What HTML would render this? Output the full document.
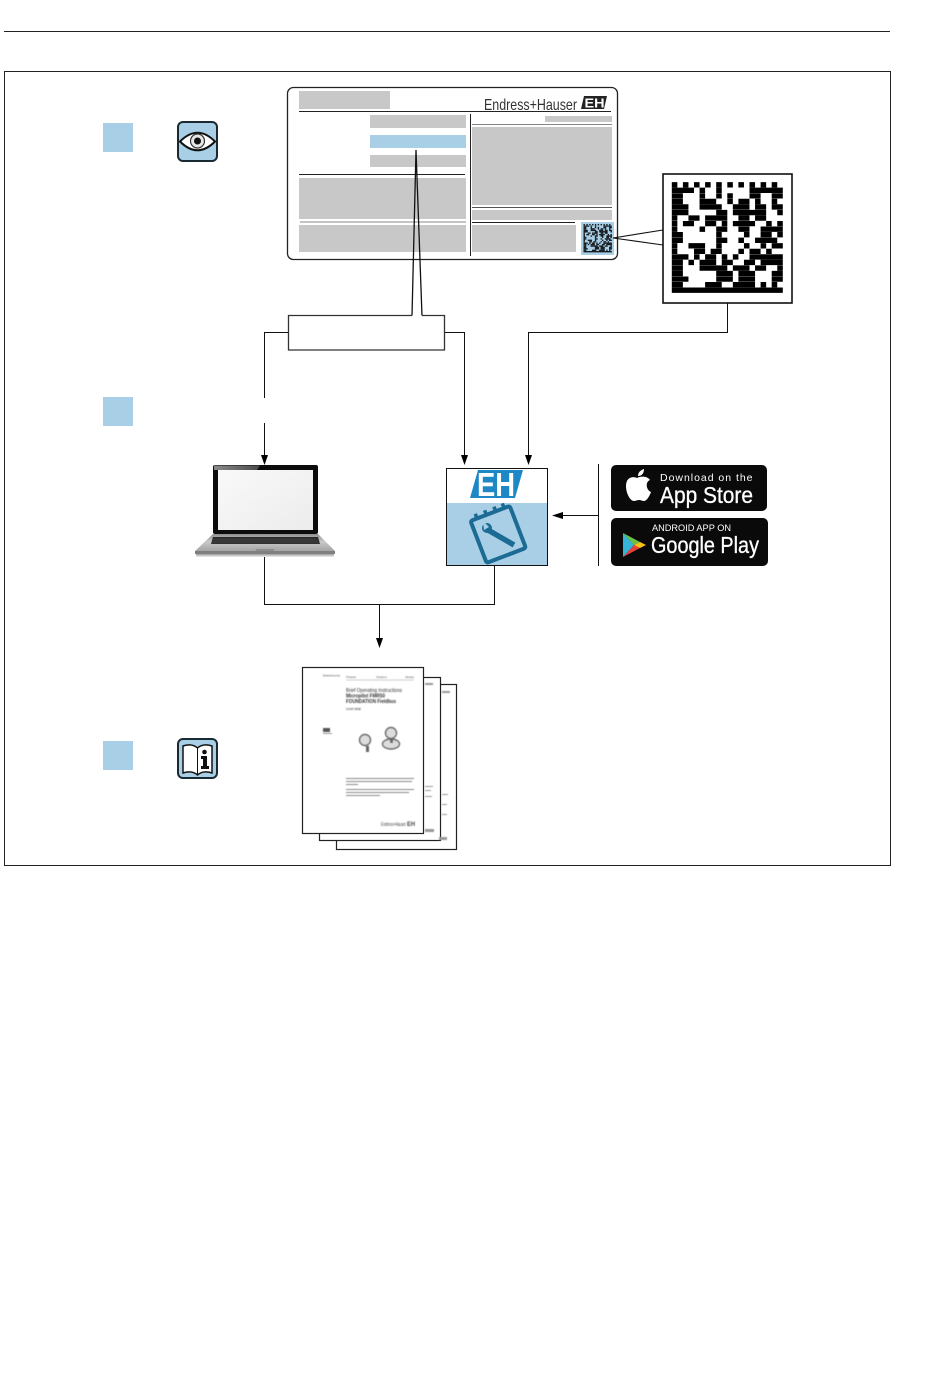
<!DOCTYPE html>
<html>
<head>
<meta charset="utf-8">
<style>
html,body{margin:0;padding:0;background:#fff;width:950px;height:1383px;overflow:hidden}
svg{display:block}
text{font-family:"Liberation Sans",sans-serif}
</style>
</head>
<body>
<svg width="950" height="1383" viewBox="0 0 950 1383" xmlns="http://www.w3.org/2000/svg">
<defs>
<path id="qr" fill="none" stroke="#000" stroke-width=".96" d="M0 .5h1M2 .5h1M4 .5h1M6 .5h1M8 .5h1M10 .5h1M12 .5h1M14 .5h1M16 .5h1M18 .5h1
M0 1.5h4M5 1.5h1M8 1.5h1M14 1.5h6
M0 2.5h2M5 2.5h1M8 2.5h1M10 2.5h1M14 2.5h2M18 2.5h2
M0 3.5h2M5 3.5h3M10 3.5h1M12 3.5h2M15 3.5h1M18 3.5h1
M0 4.5h3M5 4.5h4M11 4.5h3M15 4.5h2M18 4.5h2
M0 5.5h3M8 5.5h2M11 5.5h6M19 5.5h1
M0 6.5h1M3 6.5h2M6 6.5h4M12 6.5h2M15 6.5h2
M0 7.5h1M2 7.5h2M6 7.5h2M9 7.5h1M11 7.5h4M17 7.5h1M19 7.5h1
M0 8.5h1M5 8.5h1M8 8.5h2M12 8.5h2M16 8.5h4
M0 9.5h2M8 9.5h1M13 9.5h1M16 9.5h2M19 9.5h1
M0 10.5h2M8 10.5h2M12 10.5h1M15 10.5h4
M0 11.5h1M3 11.5h3M8 11.5h1M13 11.5h1M16 11.5h1M18 11.5h2
M0 12.5h1M4 12.5h2M7 12.5h2M12 12.5h1M14 12.5h2M17 12.5h1
M0 13.5h3M4 13.5h1M6 13.5h2M9 13.5h1M11 13.5h1M14 13.5h6
M0 14.5h2M3 14.5h1M5 14.5h3M9 14.5h2M13 14.5h2M16 14.5h4
M0 15.5h2M5 15.5h5M11 15.5h3M15 15.5h2M19 15.5h1
M0 16.5h2M8 16.5h3M12 16.5h3M18 16.5h2
M0 17.5h3M8 17.5h3M12 17.5h3M18 17.5h2
M0 18.5h2M6 18.5h3M11 18.5h4M16 18.5h1M18 18.5h1
M0 19.5h20"/>
<linearGradient id="base" x1="0" y1="0" x2="0" y2="1">
<stop offset="0" stop-color="#8f8f8f"/><stop offset=".45" stop-color="#c9c9c9"/><stop offset="1" stop-color="#a5a5a5"/>
</linearGradient>
<linearGradient id="shade" x1="0" y1="0" x2="0" y2="1">
<stop offset="0" stop-color="#9a9a9a"/><stop offset="1" stop-color="#f2f2f2"/>
</linearGradient>
<linearGradient id="screen" x1="0" y1="0" x2="1" y2="1">
<stop offset="0" stop-color="#f9f9f9"/><stop offset="1" stop-color="#ececec"/>
</linearGradient>
<linearGradient id="topband" x1="0" y1="0" x2="1" y2="0">
<stop offset="0" stop-color="#8a8a8a"/><stop offset="1" stop-color="#4a4a4a"/>
</linearGradient>
<filter id="soft" x="-5%" y="-5%" width="110%" height="110%"><feGaussianBlur stdDeviation=".45"/></filter>
</defs>

<rect width="950" height="1383" fill="#fff"/>
<line x1="4" y1="31.500" x2="890" y2="31.500" stroke="#222" stroke-width="1"/>
<rect x="4.500" y="71.500" width="886" height="794" fill="#fff" stroke="#222" stroke-width="1"/>

<!-- Blue squares -->
<rect x="103" y="123" width="30" height="29" fill="#a8cfe6"/>
<rect x="103" y="397" width="30" height="29" fill="#a8cfe6"/>
<rect x="103" y="741" width="30" height="29" fill="#a8cfe6"/>

<!-- Eye icon -->
<rect x="178" y="122" width="39" height="39" rx="5" fill="#a8cfe6" stroke="#1a2a33" stroke-width="2"/>
<path d="M180 141.500Q197.500 124 215 141.500Q197.500 159 180 141.500Z" fill="#fff" stroke="#111" stroke-width="2"/>
<circle cx="197.500" cy="141" r="7" fill="#e6e6e6" stroke="#333" stroke-width="1.200"/>
<circle cx="197.500" cy="141" r="3.500" fill="#111"/>

<!-- Book icon -->
<rect x="178" y="739" width="39" height="39" rx="5" fill="#a8cfe6" stroke="#1a2a33" stroke-width="2"/>
<path d="M183 746Q192 743 197.500 748Q203 743 212 746V773Q203 770 197.500 775Q192 770 183 773Z" fill="#fff" stroke="#111" stroke-width="1.500"/>
<line x1="197.500" y1="748" x2="197.500" y2="775" stroke="#111" stroke-width="1"/>
<circle cx="204.500" cy="752" r="2.300" fill="#111"/>
<path d="M201 756h6v10h2v3h-8v-3h2v-7h-2z" fill="#111"/>

<!-- Nameplate -->
<rect x="287.500" y="87.500" width="330" height="172" rx="6" fill="#fff" stroke="#222" stroke-width="1.300"/>
<g fill="#c8c8c8">
<rect x="299" y="91" width="91" height="18"/>
<rect x="370" y="115" width="96" height="13"/>
<rect x="370" y="155" width="96" height="12"/>
<rect x="299" y="178" width="167" height="41"/>
<rect x="299" y="225" width="167" height="27"/>
<rect x="545" y="116" width="67" height="6"/>
<rect x="472" y="127" width="140" height="78"/>
<rect x="472" y="210" width="140" height="10"/>
<rect x="472" y="225" width="104" height="27"/>
</g>
<rect x="370" y="135" width="96" height="13" fill="#a8cfe6"/>
<g stroke="#222" stroke-width="1" fill="none">
<line x1="299" y1="111.500" x2="611" y2="111.500"/>
<line x1="299" y1="174.500" x2="465" y2="174.500"/>
<line x1="300" y1="222" x2="466" y2="222" stroke="#888"/>
<line x1="470.500" y1="114" x2="470.500" y2="256"/>
<line x1="472" y1="124.500" x2="612" y2="124.500" stroke="#888"/>
<line x1="472" y1="207.500" x2="612" y2="207.500" stroke="#555"/>
<line x1="472" y1="222.500" x2="575" y2="222.500"/>
</g>
<text x="484" y="110" font-size="16" style="font-family:'Liberation Sans Narrow','Liberation Sans',sans-serif" textLength="93" lengthAdjust="spacingAndGlyphs" fill="#333">Endress+Hauser</text>
<path d="M584 96H607L604 109H581Z" fill="#222"/>
<text x="584.500" y="107.500" font-size="13" font-weight="bold" fill="#fff" textLength="20" lengthAdjust="spacingAndGlyphs">EH</text>

<!-- small matrix -->
<rect x="581" y="222" width="33" height="33" fill="#a8cfe6"/>
<use href="#qr" transform="translate(583.500 224) scale(1.420)" opacity=".85"/>

<!-- callout lines -->
<path d="M613 238L663 230M613 238L663 245" stroke="#111" stroke-width="1.100" fill="none"/>

<!-- QR box -->
<rect x="663" y="174" width="129" height="129" fill="#fff" stroke="#111" stroke-width="1.600"/>
<use href="#qr" transform="translate(671.800 182) scale(5.550)"/>

<!-- Pointer + box -->
<path d="M416 150L412 316M416 150L422 316" fill="none" stroke="#111" stroke-width="1.300"/>
<path d="M412 315.500H288.500V350H444.500V315.500H422" fill="#fff" stroke="#333" stroke-width="1.300"/>
<rect x="413" y="315.500" width="8.500" height="2" fill="#fff"/>

<!-- Connectors -->
<g fill="none" stroke="#111" stroke-width="1">
<path d="M288 332.500H264.500V398"/>
<path d="M264.500 423V456"/>
<path d="M445 332.500H464.500V456"/>
<path d="M727.500 303V332.500H528.500V456"/>
<path d="M264.500 557V604.500H494.500V566"/>
<path d="M379.500 604.500V638"/>
<path d="M598.500 464V566"/>
<path d="M598 515.500H562"/>
</g>
<g fill="#000">
<path d="M261 455h7l-3.500 10z"/>
<path d="M461 455h7l-3.500 10z"/>
<path d="M525 455h7l-3.500 10z"/>
<path d="M376 638h7l-3.500 10z"/>
<path d="M563 512v7l-11-3.500z"/>
</g>

<!-- Laptop -->
<rect x="213" y="465" width="105" height="69" rx="2" fill="#0c0c0c"/>
<path d="M214 465.500H260L257 470H214Z" fill="url(#topband)"/>
<rect x="218" y="470" width="95" height="60" fill="url(#screen)"/>
<path d="M213 534H318L335 551H195Z" fill="url(#base)"/>
<path d="M213 537H318L320 544H211Z" fill="#2a2a2a"/>
<g stroke="#8a8a8a" stroke-width=".6" stroke-dasharray="1.500 1.200" fill="none" filter="url(#soft)">
<path d="M214 539H317M213 541H318M212 543H319"/>
</g>
<path d="M255 549H275L273 551H257Z" fill="#8d8d8d"/>
<path d="M195 551H335V554Q265 556 195 554Z" fill="#7f7f7f"/>
<rect x="196" y="554" width="138" height="3" fill="url(#shade)"/>

<!-- App tile -->
<rect x="446.500" y="468.500" width="101" height="97" fill="#fff"/>
<rect x="447" y="503" width="100" height="62" fill="#a8cfe6"/>
<path d="M478 470H523L515 498H470Z" fill="#1e88c7"/>
<text x="477" y="496" font-size="33" font-weight="bold" fill="#fff" textLength="38" lengthAdjust="spacingAndGlyphs">EH</text>
<g transform="rotate(-21 498 534)" fill="none" stroke="#1c6b95">
<rect x="477" y="512" width="42" height="45" rx="2" stroke-width="4"/>
<path d="M484 512v-5M494 512v-5M504 512v-5M513 512v-5" stroke-width="3.500"/>
</g>
<path d="M488 530L514 545" stroke="#1c6b95" stroke-width="5.500" fill="none"/>
<circle cx="487" cy="528" r="5" fill="#1c6b95"/>
<path d="M483 521L489 527L484 530Z" fill="#a8cfe6"/>
<rect x="446.500" y="468.500" width="101" height="97" fill="none" stroke="#111" stroke-width="1"/>

<!-- App Store badge -->
<rect x="611" y="465" width="156" height="46" rx="5" fill="#0a0a0a"/>
<path d="M637 478C633 476 626 477 626 486C626 493 630 501 634 501C636 501 637 500 639 500C641 500 642 501 644 501C647 501 650 495 651 492C646 490 645 482 650 480C647 476 641 476 637 478Z" fill="#fff"/>
<path d="M638 476C638 472 641 470 644 469C644 473 642 476 638 476Z" fill="#fff"/>
<text x="660" y="481" font-size="10.500" fill="#fff" textLength="93" letter-spacing=".5">Download on the</text>
<text x="660" y="503" font-size="23" fill="#fff" stroke="#fff" stroke-width=".3" textLength="93" lengthAdjust="spacingAndGlyphs">App Store</text>

<!-- Google Play badge -->
<rect x="611" y="518" width="157" height="48" rx="5" fill="#0a0a0a"/>
<path d="M623 533L634 545L623 557Z" fill="#35b6d8"/>
<path d="M623 533L640 542L634 545Z" fill="#6cc04a"/>
<path d="M623 557L640 548L634 545Z" fill="#e8413c"/>
<path d="M640 542L646 545L640 548L634 545Z" fill="#f9c30f"/>
<text x="652" y="531" font-size="9" fill="#fff" textLength="79" lengthAdjust="spacingAndGlyphs">ANDROID APP ON</text>
<text x="651" y="553" font-size="23" fill="#fff" stroke="#fff" stroke-width=".3" textLength="108" lengthAdjust="spacingAndGlyphs">Google Play</text>

<!-- Documents -->
<rect x="336.500" y="684.500" width="120" height="165" fill="#fff" stroke="#222" stroke-width="1.200"/>
<rect x="319.500" y="677.500" width="121" height="163" fill="#fff" stroke="#222" stroke-width="1.200"/>
<g fill="#999" filter="url(#soft)">
<rect x="425" y="683" width="8" height="2"/><rect x="442" y="691" width="8" height="2"/>
<rect x="425" y="786" width="8" height="1"/><rect x="425" y="790" width="6" height="1"/><rect x="425" y="796" width="7" height="1"/>
<rect x="442" y="794" width="6" height="1"/><rect x="442" y="804" width="5" height="1"/><rect x="442" y="814" width="5" height="1"/>
<rect x="425" y="829" width="9" height="3"/><rect x="439" y="837" width="8" height="3"/>
</g>
<rect x="302.500" y="667.500" width="121" height="166" fill="#fff" stroke="#222" stroke-width="1.200"/>
<g filter="url(#soft)">
<g font-family="Liberation Serif,serif" fill="#333">
<text x="346" y="692" font-size="5.400" textLength="56" lengthAdjust="spacingAndGlyphs">Brief Operating Instructions</text>
<text x="346" y="697.500" font-size="5.400" font-weight="bold" textLength="39" lengthAdjust="spacingAndGlyphs">Micropilot FMR50</text>
<text x="346" y="703" font-size="5.400" font-weight="bold" textLength="50" lengthAdjust="spacingAndGlyphs">FOUNDATION Fieldbus</text>
<text x="346" y="710" font-size="4" textLength="15" lengthAdjust="spacingAndGlyphs">Level radar</text>
</g>
<g fill="#666" font-size="3">
<text x="346" y="678" textLength="10">Products</text>
<text x="376" y="678" textLength="11">Solutions</text>
<text x="405" y="678" textLength="9">Services</text>
<text x="323" y="676.500" font-size="2.500" textLength="17">Electronic Document</text>
</g>
<line x1="346" y1="680" x2="414" y2="680" stroke="#999" stroke-width=".6"/>
<g fill="#888">
<rect x="346" y="778" width="68" height="1"/>
<rect x="346" y="781" width="66" height="1"/>
<rect x="346" y="784" width="12" height="1"/>
<rect x="346" y="789" width="68" height="1"/>
<rect x="346" y="792" width="63" height="1"/>
<rect x="346" y="795" width="34" height="1"/>
</g>
<rect x="323" y="728" width="7" height="4" fill="#555"/>
<rect x="323" y="733" width="9" height="1" fill="#999"/>
<g fill="#ddd" stroke="#666" stroke-width="1.400">
<ellipse cx="391" cy="744" rx="8.500" ry="5"/>
<circle cx="365" cy="740" r="5.500"/>
<circle cx="391" cy="733" r="5.500"/>
</g>
<rect x="366" y="746" width="3" height="6" fill="#666"/>
<rect x="390" y="738" width="3" height="5" fill="#666"/>
<text x="381" y="826" font-size="5.500" fill="#444" textLength="25" lengthAdjust="spacingAndGlyphs">Endress+Hauser</text>
<text x="407" y="826" font-size="6" font-weight="bold" fill="#444" textLength="8" lengthAdjust="spacingAndGlyphs">EH</text>
</g>
</svg>
</body>
</html>
